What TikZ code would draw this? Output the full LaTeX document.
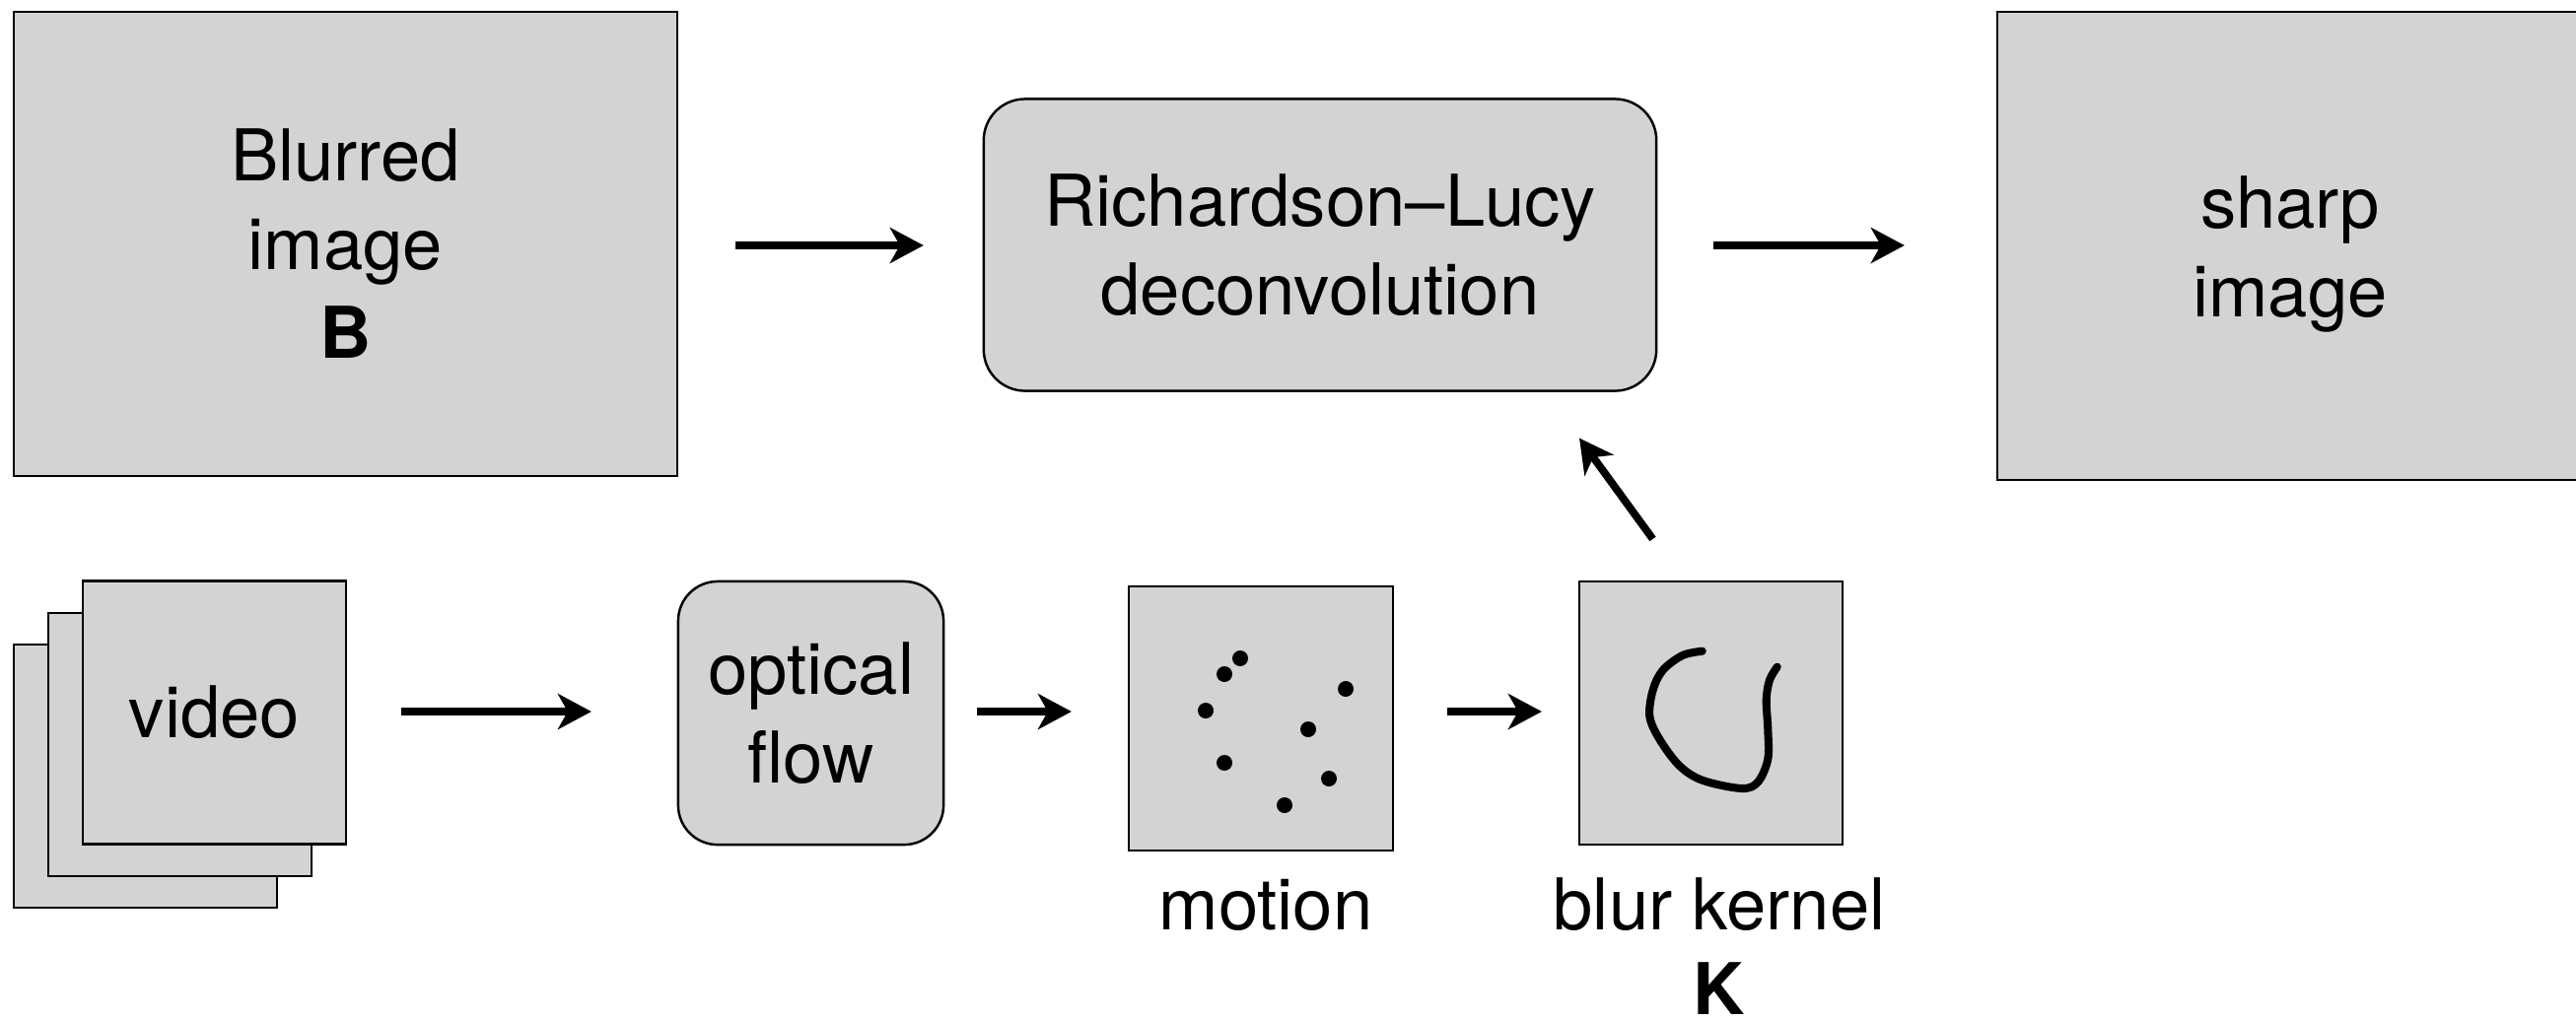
\documentclass[tikz,border=0pt]{standalone}
\usepackage{fontspec}
\setmainfont{TeX Gyre Heros}
\usetikzlibrary{arrows.meta,calc}
\definecolor{boxgray}{RGB}{211,211,211}
\newcommand\dfont{\fontsize{20.6pt}{25.6pt}\selectfont}
\begin{document}
\begin{tikzpicture}[x=0.01cm,y=-0.01cm,
  box/.style={draw=black,line width=0.7pt,fill=boxgray,inner sep=0pt,outer sep=0pt,align=center,font=\dfont},
  rbox/.style={box,rounded corners=0.42cm},
  lbl/.style={inner sep=0pt,outer sep=0pt,align=center,font=\dfont,anchor=base},
  arr/.style={line width=2.2pt,-{Stealth[length=0.34cm,width=0.36cm,inset=0.1cm]}},
  kcurve/.style={line width=2.3pt,line cap=round,line join=round},
]
\useasboundingbox (0,0) rectangle (2613,1035);
\fill[white] (0,0) rectangle (2613,1035);

% top row
\node[box,minimum width=6.73cm,minimum height=4.71cm] (blurred) at (350.5,247.5) {Blurred\\image\\\textbf{B}};
\node[rbox,minimum width=6.82cm,minimum height=2.96cm] (rl) at (1339,248.5) {Richardson--Lucy\\deconvolution};
\begin{scope}
  \clip (0,0) rectangle (2613,1035);
  \node[box,minimum width=5.94cm,minimum height=4.75cm] (sharp) at (2323,249.5) {};
\end{scope}
\node[inner sep=0pt,align=center,font=\dfont] (sharptxt) at ($(sharp.center)+(0,8)$) {sharp\\image};

% video stack
\node[box,minimum width=2.67cm,minimum height=2.67cm] (v3) at (147.5,787.5) {};
\node[box,minimum width=2.67cm,minimum height=2.67cm] (v2) at (182.5,755.5) {};
\node[box,minimum width=2.67cm,minimum height=2.67cm] (video) at (217.5,723) {video};

% optical flow
\node[rbox,rounded corners=0.4cm,minimum width=2.69cm,minimum height=2.67cm] (optical) at (822.5,723.5) {optical\\flow};

% motion
\node[box,minimum width=2.68cm,minimum height=2.68cm] (motion) at (1279,729) {};
\foreach \p in {(1258,668),(1242,684),(1223,721),(1242,774),(1303,817),(1327,740),(1348,790),(1365,699)}
  \fill \p circle[radius=0.08cm];
\node[lbl] (motionlbl) at (1284,943) {motion};

% blur kernel
\node[box,minimum width=2.67cm,minimum height=2.67cm] (kernel) at (1735.5,723.5) {};
\draw[kcurve] plot[smooth,tension=0.55] coordinates {(1726.7,660.7) (1706.7,665) (1686.7,680) (1676.7,700) (1673.3,726.7) (1683.3,750) (1703.3,776.7) (1726.7,791.7) (1766.7,800) (1783.3,793.3) (1793.3,770) (1793.3,740) (1791.7,710) (1795,690) (1802.7,676.7)};
\node[lbl] (kernellbl) at (1744,943) {blur kernel};
\node[lbl,font=\dfont\bfseries] (klbl) at (1744,1029) {K};

% connectors
\draw[arr] ($(blurred.east)+(59,1.5)$) -- ($(rl.west)+(-61,0.5)$);
\draw[arr] ($(rl.east)+(58,0.5)$) -- ($(sharp.west |- rl.east)+(-94,0.5)$);
\draw[arr] ($(video.east)+(56,-1)$) -- ($(optical.west |- video.east)+(-88,-1)$);
\draw[arr] ($(optical.east)+(34,-1.5)$) -- ($(motion.west |- optical.east)+(-58,-1.5)$);
\draw[arr] ($(motion.east |- kernel.west)+(55,-1.5)$) -- ($(kernel.west)+(-38,-1.5)$);
\draw[arr] ($(kernel.north)+(-59,-43)$) -- ($(rl.south)+(263,48)$);
\end{tikzpicture}
\end{document}
